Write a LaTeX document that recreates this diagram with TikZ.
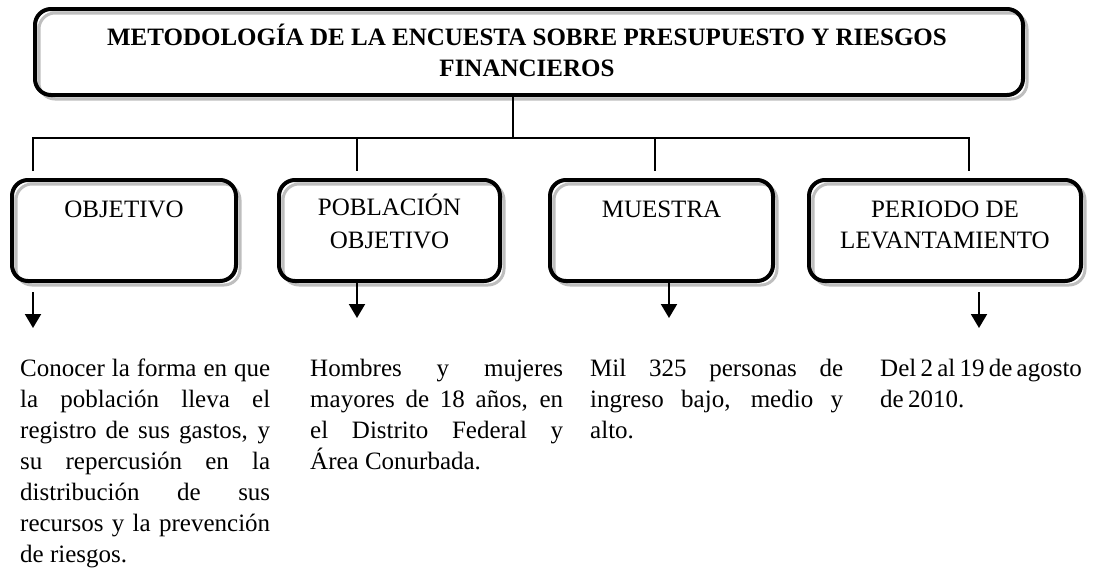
\documentclass[tikz,border=0pt]{standalone}
\usepackage{fontspec}
\setmainfont{Liberation Serif}
\usetikzlibrary{arrows.meta,backgrounds,calc}
\definecolor{shadowgray}{RGB}{190,190,190}
\begin{document}
\begin{tikzpicture}[x=1pt,y=-1pt,
  box/.style={draw=black, line width=4pt, rounded corners=16pt, inner sep=0pt, outer sep=0pt},
  shadowline/.style={draw=shadowgray, line width=3pt, rounded corners=16pt},
  conn/.style={draw=black, line width=2pt},
  arr/.style={draw=black, line width=2pt, -{Triangle[width=16pt,length=14pt]}},
  titletext/.style={font=\fontsize{25pt}{31pt}\selectfont\bfseries, inner sep=0pt, anchor=base},
  lbl/.style={font=\fontsize{25pt}{31pt}\selectfont, inner sep=0pt, anchor=base},
  body/.style={font=\fontsize{25pt}{31pt}\selectfont, inner sep=0pt, anchor=north west},
  jbody/.style={body, align=justify,
               execute at begin node={\hyphenpenalty=10000 \exhyphenpenalty=10000 \tolerance=10000 \hbadness=10000 }}
]
\useasboundingbox (0,0) rectangle (1102,574);

% title box
\node[box, minimum width=988pt, minimum height=86pt] (t) at (529,52) {};
\node[titletext] (t1) at (527,45) {METODOLOGÍA DE LA ENCUESTA SOBRE PRESUPUESTO Y RIESGOS};
\node[titletext] (t2) at (527,76) {FINANCIEROS};

% category boxes
\node[box, minimum width=224pt, minimum height=101pt] (b1) at (124,230.5) {};
\node[box, minimum width=221pt, minimum height=101pt] (b2) at (389.5,230.5) {};
\node[box, minimum width=223pt, minimum height=101pt] (b3) at (661.5,230.5) {};
\node[box, minimum width=272pt, minimum height=101pt] (b4) at (945,230.5) {};

\node[lbl] (l1) at (124,217) {OBJETIVO};
\node[lbl] (l2a) at (389.5,215) {POBLACIÓN};
\node[lbl] (l2b) at (389.5,248) {OBJETIVO};
\node[lbl] (l3) at (661.5,217) {MUESTRA};
\node[lbl] (l4a) at (945,217) {PERIODO DE};
\node[lbl] (l4b) at (945,248) {LEVANTAMIENTO};

% shadows
\begin{pgfonlayer}{background}
  \foreach \n in {t,b1,b2,b3,b4}{
    \draw[shadowline] ($(\n.north west)+(4,4)$) rectangle ($(\n.south east)+(4,4)$);
  }
\end{pgfonlayer}

% tree connectors
\coordinate (hb) at (513,138);
\coordinate (hl) at (33,138);
\coordinate (hr) at (969,138);
\coordinate (d1) at (33,171);
\coordinate (d2) at (357,171);
\coordinate (d3) at (655,171);
\coordinate (d4) at (969,171);
\draw[conn] (t.south -| hb) -- (hb);
\draw[conn] (d1) -- (hl) -- (hr) -- (d4);
\draw[conn] (d2 |- hl) -- (d2);
\draw[conn] (d3 |- hl) -- (d3);

% text blocks
\node[jbody, text width=250pt] (x1) at (20,354.3) {\strut Conocer la forma en que\linebreak la población lleva el\linebreak registro de sus gastos, y\linebreak su repercusión en la\linebreak distribución de sus\linebreak recursos y la prevención\linebreak de riesgos.};
\node[jbody, text width=253pt] (x2) at (310,354.3) {\strut Hombres y mujeres\linebreak mayores de 18 años, en\linebreak el Distrito Federal y\linebreak Área Conurbada.};
\node[jbody, text width=253pt] (x3) at (590,354.3) {\strut Mil 325 personas de\linebreak ingreso bajo, medio y\linebreak alto.};
\node[body, text width=216pt, align=left,
      execute at begin node={\spaceskip=0.17em plus 0.05em minus 0.05em }] (x4) at (880,354.3) {\strut Del~2~al~19~de~agosto\\de 2010.};

% arrows
\coordinate (a1s) at (33,292);
\coordinate (a1) at (33,328);
\coordinate (a2) at (357,318);
\coordinate (a3) at (669,318);
\coordinate (a4s) at (979,292);
\coordinate (a4) at (979,328);
\draw[arr] (a1s) -- (a1);
\draw[arr] (b2.south -| a2) -- (a2);
\draw[arr] (b3.south -| a3) -- (a3);
\draw[arr] (a4s) -- (a4);
\end{tikzpicture}
\end{document}
